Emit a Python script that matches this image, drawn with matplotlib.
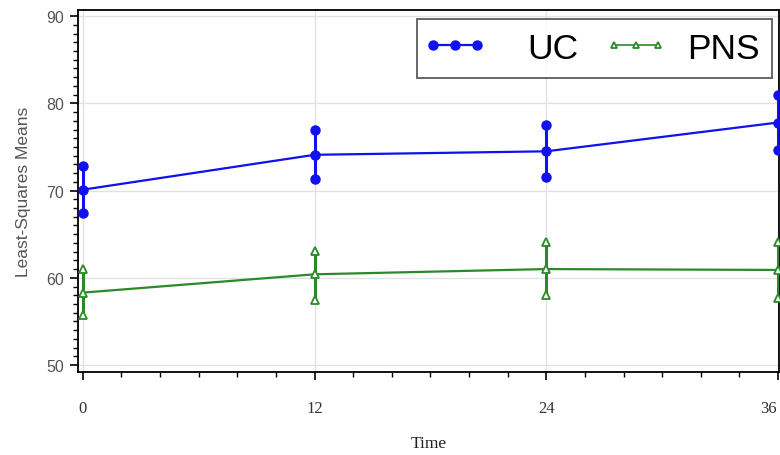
import matplotlib
matplotlib.use("Agg")
import matplotlib.pyplot as plt
from matplotlib.ticker import MultipleLocator
from matplotlib.transforms import ScaledTranslation
from matplotlib.lines import Line2D
from matplotlib.legend_handler import HandlerLine2D

time = [0, 12, 24, 36]
uc_mean = [70.1, 74.1, 74.5, 77.8]
uc_lower = [67.4, 71.3, 71.5, 74.6]
uc_upper = [72.8, 76.9, 77.5, 81.0]
pns_mean = [58.3, 60.4, 61.0, 60.9]
pns_lower = [55.7, 57.5, 58.0, 57.7]
pns_upper = [61.0, 63.1, 64.1, 64.1]
xticks = [0, 12, 24, 36]
yticks = [50, 60, 70, 80, 90]

serif = ["Liberation Serif", "DejaVu Serif"]
sans = ["Liberation Sans", "DejaVu Sans"]
blue = "#1010f0"
green = "#2a8a2a"

fig = plt.figure(figsize=(7.8, 4.56), dpi=100)
ax = fig.add_axes([78/780, 1-373/456, 701/780, 362/456])

ax.set_xlim(-0.25, 36.05)
ax.set_ylim(49.2, 90.7)

ax.grid(True, color="#e2e2e2", lw=1.0)
ax.set_axisbelow(True)

# UC
ax.vlines(time, uc_lower, uc_upper, color=blue, lw=2.2, zorder=3)
ax.plot(time, uc_lower, "o", color=blue, ms=6.5, zorder=4)
ax.plot(time, uc_upper, "o", color=blue, ms=6.5, zorder=4)
ax.plot(time, uc_mean, "-o", color=blue, lw=1.6, ms=6.5, zorder=4, label="UC")

# PNS
ax.vlines(time, pns_lower, pns_upper, color=green, lw=2.2, zorder=3)
ax.plot(time, pns_lower, "^", color=green, mfc="white", mew=1.3, ms=6, zorder=4)
ax.plot(time, pns_upper, "^", color=green, mfc="white", mew=1.3, ms=6, zorder=4)
ax.plot(time, pns_mean, "-^", color=green, mfc="white", mew=1.3, lw=1.6, ms=6,
        zorder=4, label="PNS")

ax.set_xticks(xticks)
ax.set_yticks(yticks)
ax.xaxis.set_minor_locator(MultipleLocator(2))
ax.yaxis.set_minor_locator(MultipleLocator(1))
ax.tick_params(which="major", direction="out", length=6, width=1.2, color="black")
ax.tick_params(which="minor", direction="out", length=3.5, width=1.0, color="black")
ax.tick_params(axis="x", labelsize=12, pad=14)
ax.tick_params(axis="y", labelsize=11.5, pad=4)
for lab in ax.get_xticklabels():
    lab.set_family(serif)
    lab.set_color("#333333")
for lab in ax.get_yticklabels():
    lab.set_family(sans)
    lab.set_color("#555555")
xl = ax.get_xticklabels()
xl[-1].set_horizontalalignment("right")
xl[-1].set_transform(xl[-1].get_transform() + ScaledTranslation(-1/100, 0, fig.dpi_scale_trans))

for s in ax.spines.values():
    s.set_color("black")
    s.set_linewidth(1.3)

ax.set_xlabel("Time", family=serif, fontsize=12.5, labelpad=14, color="#222222")
ax.set_ylabel("Least-Squares Means", family=sans, fontsize=12.5, labelpad=11,
              color="#555555")

leg = ax.legend(loc="upper right", bbox_to_anchor=(772/780, 1-20/456),
                bbox_transform=fig.transFigure, ncol=2, numpoints=3,
                frameon=True, fancybox=False, edgecolor="#333333",
                prop={"family": sans, "size": 25.5},
                handler_map={Line2D: HandlerLine2D(marker_pad=0.1, numpoints=3)},
                handlelength=1.44, handletextpad=0.71, columnspacing=1.51,
                borderpad=0.36, borderaxespad=0)
leg.get_frame().set_linewidth(1.3)
hs = leg.legend_handles
hs[0].set_markersize(6.5)
hs[1].set_markersize(5)
hs[1].set_linewidth(1.2)
# the first label sits further from its handle in the reference
leg.get_texts()[0].set_x(21)

fig.savefig("out.png", dpi=100)
